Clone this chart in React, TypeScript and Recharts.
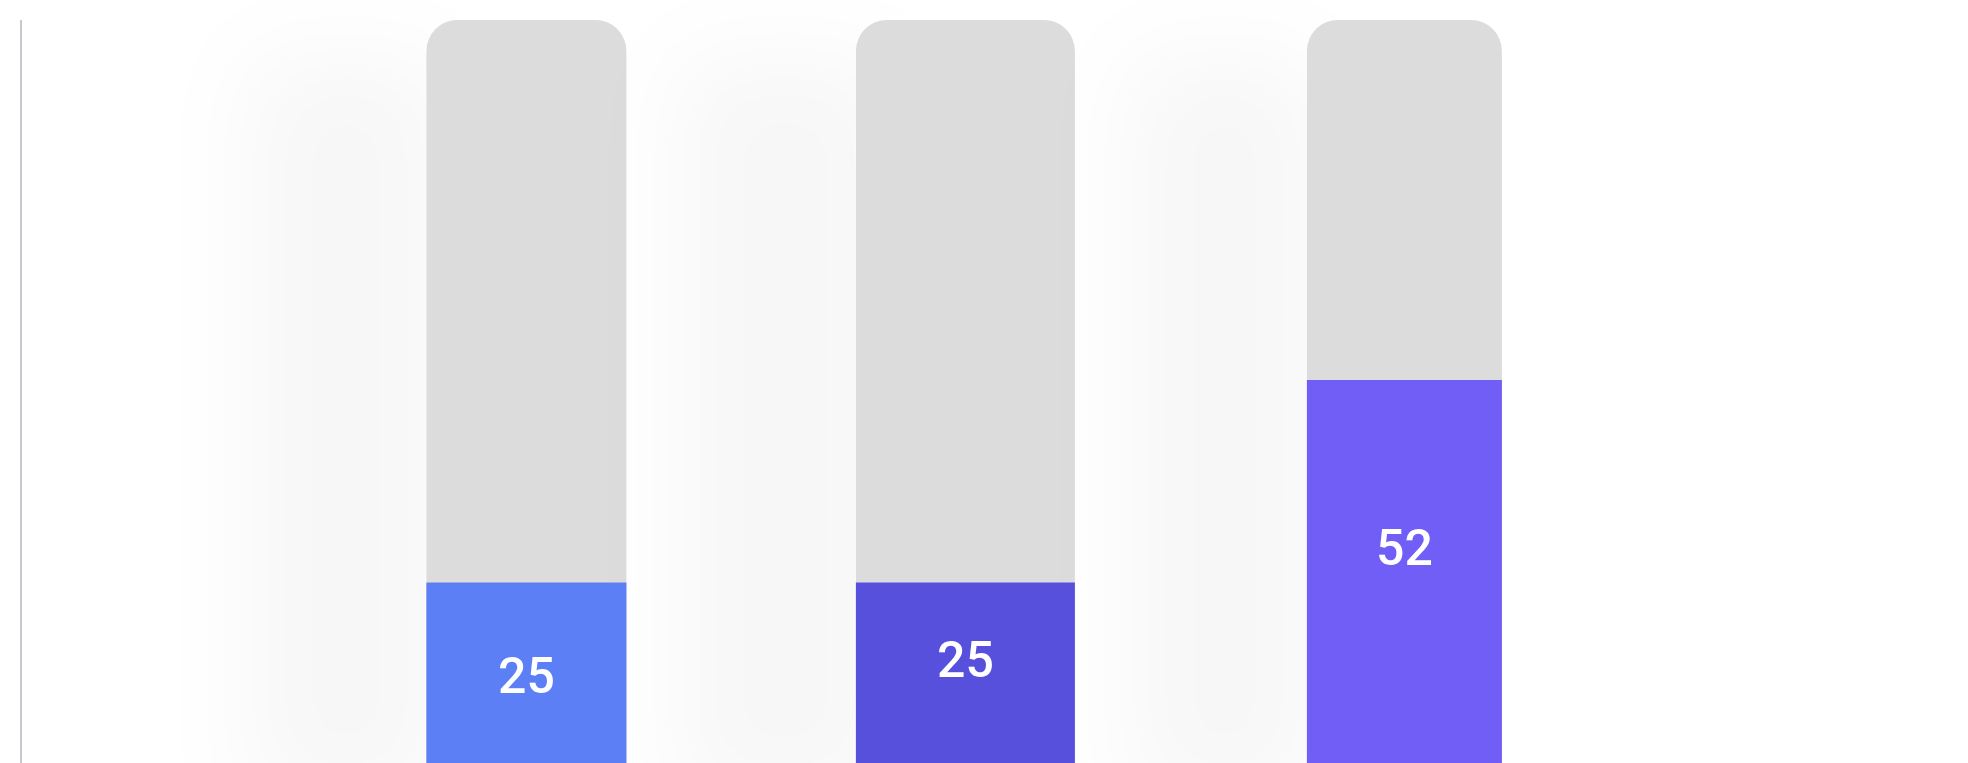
import React from 'react';
import { BarChart, Bar, XAxis, YAxis, LabelList } from 'recharts';

const categories = ['A', 'B', 'C'];
const values = [25, 25, 52];

const BAR_COLORS = ['#5C7FF5', '#5650DD', '#705EF7'];
const BAR_WIDTHS = [200, 219, 195];
const LABEL_SHIFT = [0, -16, -27];
const TRACK_COLOR = '#DCDCDC';
const RADIUS = 31;

const data = categories.map((name, i) => ({ name, value: values[i] }));

const TrackShape = (props: any) => {
  const { x, y, width, height, index } = props;
  const w = BAR_WIDTHS[index % BAR_WIDTHS.length];
  const left = x + width / 2 - w / 2;
  const r = RADIUS;
  const d = `M${left},${y + height} L${left},${y + r} A${r},${r} 0 0 1 ${left + r},${y} L${left + w - r},${y} A${r},${r} 0 0 1 ${left + w},${y + r} L${left + w},${y + height} Z`;
  return (
    <g>
      <defs>
        <filter id={`soft-${index}`} x="-200%" y="-20%" width="500%" height="150%">
          <feDropShadow dx={-180} dy={35} stdDeviation={45} floodColor="#1e2a40" floodOpacity={0.03} />
        </filter>
      </defs>
      <path d={d} fill={TRACK_COLOR} filter={`url(#soft-${index})`} />
    </g>
  );
};

const ValueShape = (props: any) => {
  const { x, y, width, height, index } = props;
  const w = BAR_WIDTHS[index % BAR_WIDTHS.length];
  return <rect x={x + width / 2 - w / 2} y={y} width={w} height={height} fill={BAR_COLORS[index % BAR_COLORS.length]} />;
};

const ValueLabel = (props: any) => {
  const { x, y, width, height, index, value } = props;
  return (
    <text
      x={x + width / 2}
      y={y + height / 2 + LABEL_SHIFT[index % LABEL_SHIFT.length]}
      fill="#ffffff"
      textAnchor="middle"
      dominantBaseline="central"
      style={{ fontFamily: 'Roboto, "Liberation Sans", sans-serif', fontSize: 50, fontWeight: 500 }}
    >
      {value}
    </text>
  );
};

export default function App() {
  return (
    <div style={{ position: 'absolute', left: 0, top: 0, width: 1968, height: 763, overflow: 'hidden', background: '#fff' }}>
      <BarChart
        width={1968}
        height={790}
        data={data}
        margin={{ top: 20, right: 344, left: 0, bottom: 20 }}
        barCategoryGap="10%"
      >
        <XAxis dataKey="name" hide padding={{ left: 286, right: 0 }} />
        <YAxis width={21} domain={[0, 100]} tick={false} tickLine={false} axisLine={{ stroke: '#B4B7C1', strokeWidth: 1.5 }} />
        <Bar dataKey="value" isAnimationActive={false} background={TrackShape} shape={ValueShape}>
          <LabelList dataKey="value" content={ValueLabel} />
        </Bar>
      </BarChart>
    </div>
  );
}
